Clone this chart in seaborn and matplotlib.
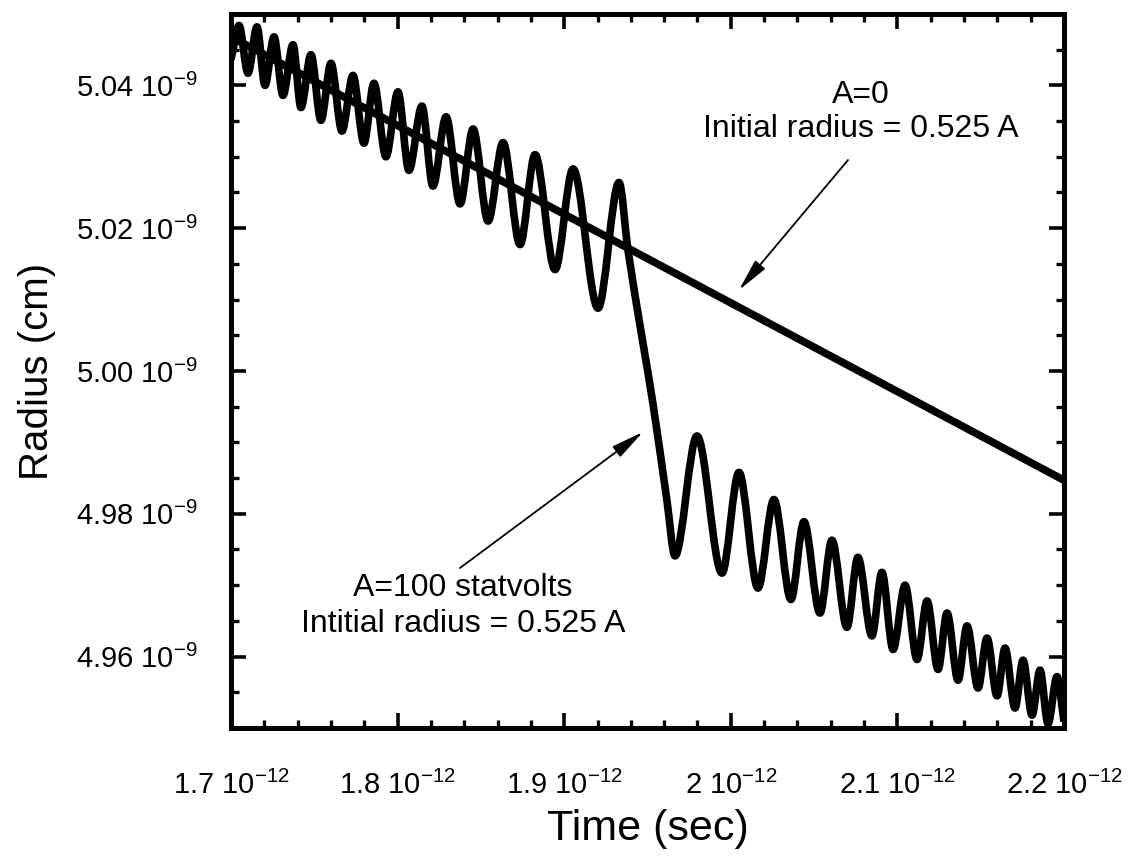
import numpy as np
import pandas as pd
import matplotlib
matplotlib.use("Agg")
import matplotlib.pyplot as plt
from matplotlib.ticker import FixedLocator, MultipleLocator, FixedFormatter
from matplotlib.path import Path
from matplotlib.patches import PathPatch
import seaborn as sns

# ---------------- data (time in 1e-12 s, radius in 1e-9 cm) ----------------
# A = 0 : straight decay
time_a0 = [1.700, 2.200]
radius_a0 = [5.0468, 4.9847]

# A = 100 statvolts : oscillating curve (extrema and descent points)
time_a100 = [
    1.7000, 1.7048, 1.7102, 1.7156, 1.7204, 1.7258, 1.7312, 1.7372, 1.7420, 1.7480,
    1.7540, 1.7600, 1.7666, 1.7732, 1.7798, 1.7858, 1.7930, 1.8002, 1.8068, 1.8146,
    1.8212, 1.8291, 1.8375, 1.8453, 1.8543, 1.8633, 1.8735, 1.8825, 1.8945, 1.9053,
    1.9203, 1.9329, 1.9383, 1.9467, 1.9533, 1.9617, 1.9665, 1.9797, 1.9947, 2.0049,
    2.0163, 2.0259, 2.0361, 2.0439, 2.0535, 2.0607, 2.0697, 2.0763, 2.0847, 2.0907,
    2.0974, 2.1046, 2.1118, 2.1178, 2.1244, 2.1298, 2.1364, 2.1418, 2.1484, 2.1538,
    2.1598, 2.1646, 2.1706, 2.1754, 2.1808, 2.1856, 2.1904, 2.1958, 2.2000,
]
radius_a100 = [
    5.0436, 5.0484, 5.0417, 5.0482, 5.0400, 5.0468, 5.0386, 5.0457, 5.0369, 5.0443,
    5.0351, 5.0431, 5.0336, 5.0414, 5.0319, 5.0403, 5.0300, 5.0391, 5.0281, 5.0371,
    5.0259, 5.0356, 5.0234, 5.0339, 5.0210, 5.0320, 5.0177, 5.0303, 5.0142, 5.0283,
    5.0088, 5.0264, 5.0169, 5.0047, 4.9954, 4.9818, 4.9741, 4.9909, 4.9717, 4.9858,
    4.9696, 4.9820, 4.9680, 4.9789, 4.9661, 4.9763, 4.9641, 4.9739, 4.9629, 4.9718,
    4.9610, 4.9700, 4.9596, 4.9678, 4.9582, 4.9661, 4.9567, 4.9643, 4.9556, 4.9626,
    4.9545, 4.9612, 4.9528, 4.9595, 4.9518, 4.9581, 4.9506, 4.9572, 4.9509,
]

x_ticks = [1.7, 1.8, 1.9, 2.0, 2.1, 2.2]
x_tick_labels = ["1.7 $10^{-12}$", "1.8 $10^{-12}$", "1.9 $10^{-12}$",
                 "2 $10^{-12}$", "2.1 $10^{-12}$", "2.2 $10^{-12}$"]
y_ticks = [4.96, 4.98, 5.00, 5.02, 5.04]
y_tick_labels = ["4.96 $10^{-9}$", "4.98 $10^{-9}$", "5.00 $10^{-9}$",
                 "5.02 $10^{-9}$", "5.04 $10^{-9}$"]

label_a0 = "A=0\nInitial radius = 0.525 A"
label_a100 = "A=100 statvolts\nIntitial radius = 0.525 A"

# ---------------- style ----------------
sns.set_style("ticks")
plt.rcParams["font.family"] = ["Liberation Sans", "DejaVu Sans"]
plt.rcParams["mathtext.fontset"] = "custom"
plt.rcParams["mathtext.rm"] = "Liberation Sans"
plt.rcParams["mathtext.it"] = "Liberation Sans"
plt.rcParams["mathtext.bf"] = "Liberation Sans"
plt.rcParams.update({"text.color": "black", "axes.labelcolor": "black",
                     "xtick.color": "black", "ytick.color": "black",
                     "axes.edgecolor": "black"})

fig = plt.figure(figsize=(11.38, 8.56), dpi=100)
ax = fig.add_axes([231 / 1138, 128 / 856, 833 / 1138, 714 / 856])

df0 = pd.DataFrame({"t": time_a0, "r": radius_a0})
sns.lineplot(data=df0, x="t", y="r", ax=ax, color="black", lw=5.5,
             estimator=None, sort=False, solid_capstyle="butt")


def smooth_path(xs, ys):
    """Render the read points as a smooth curve (cubic Hermite/Bezier style):
    flat tangents at the extrema, secant tangents elsewhere."""
    xs = np.asarray(xs, float)
    ys = np.asarray(ys, float)
    n = len(xs)
    m = np.zeros(n)
    for i in range(n):
        if i == 0:
            m[i] = (ys[1] - ys[0]) / (xs[1] - xs[0])
        elif i == n - 1:
            m[i] = (ys[-1] - ys[-2]) / (xs[-1] - xs[-2])
        elif (ys[i] - ys[i - 1]) * (ys[i + 1] - ys[i]) <= 0:
            m[i] = 0.0
        else:
            m[i] = (ys[i + 1] - ys[i - 1]) / (xs[i + 1] - xs[i - 1])
    verts = [(xs[0], ys[0])]
    codes = [Path.MOVETO]
    for i in range(n - 1):
        h = (xs[i + 1] - xs[i]) / 3.0
        verts += [(xs[i] + h, ys[i] + h * m[i]),
                  (xs[i + 1] - h, ys[i + 1] - h * m[i + 1]),
                  (xs[i + 1], ys[i + 1])]
        codes += [Path.CURVE4] * 3
    return Path(verts, codes)


curve = PathPatch(smooth_path(time_a100, radius_a100), facecolor="none",
                  edgecolor="black", lw=5.5, joinstyle="round", capstyle="butt",
                  transform=ax.transData)
ax.add_patch(curve)

ax.set_xlim(1.7, 2.2)
ax.set_ylim(4.95, 5.05)

ax.xaxis.set_major_locator(FixedLocator(x_ticks))
ax.xaxis.set_major_formatter(FixedFormatter(x_tick_labels))
ax.xaxis.set_minor_locator(MultipleLocator(0.02))
ax.yaxis.set_major_locator(FixedLocator(y_ticks))
ax.yaxis.set_major_formatter(FixedFormatter(y_tick_labels))
ax.yaxis.set_minor_locator(MultipleLocator(0.005))

ax.tick_params(which="both", direction="in", top=True, right=True,
               colors="black", labelsize=21)
ax.tick_params(which="major", length=11, width=2.6)
ax.tick_params(which="minor", length=6, width=2.4)
ax.tick_params(axis="y", which="major", pad=24)
ax.tick_params(axis="x", which="major", pad=31)

for sp in ax.spines.values():
    sp.set_linewidth(3.6)
    sp.set_color("black")

ax.set_xlabel("Time (sec)", fontsize=31, labelpad=6)
ax.set_ylabel("Radius (cm)", fontsize=29, labelpad=14)

# annotations
ax.text(0.756, 0.863, label_a0, transform=ax.transAxes, ha="center",
        va="center", fontsize=23, linespacing=1.15)
ax.annotate("", xy=(0.6098, 0.6134), xytext=(0.7407, 0.7955),
            xycoords="axes fraction", textcoords="axes fraction",
            arrowprops=dict(arrowstyle="-|>,head_length=1.0,head_width=0.2",
                            mutation_scale=20, lw=1.3, color="black",
                            shrinkA=0, shrinkB=0))
ax.text(0.2785, 0.1709, label_a100, transform=ax.transAxes, ha="center",
        va="center", fontsize=23, linespacing=1.3)
ax.annotate("", xy=(0.4946, 0.4146), xytext=(0.2749, 0.2241),
            xycoords="axes fraction", textcoords="axes fraction",
            arrowprops=dict(arrowstyle="-|>,head_length=1.0,head_width=0.2",
                            mutation_scale=20, lw=1.3, color="black",
                            shrinkA=0, shrinkB=0))

fig.savefig("out.png", dpi=100)
